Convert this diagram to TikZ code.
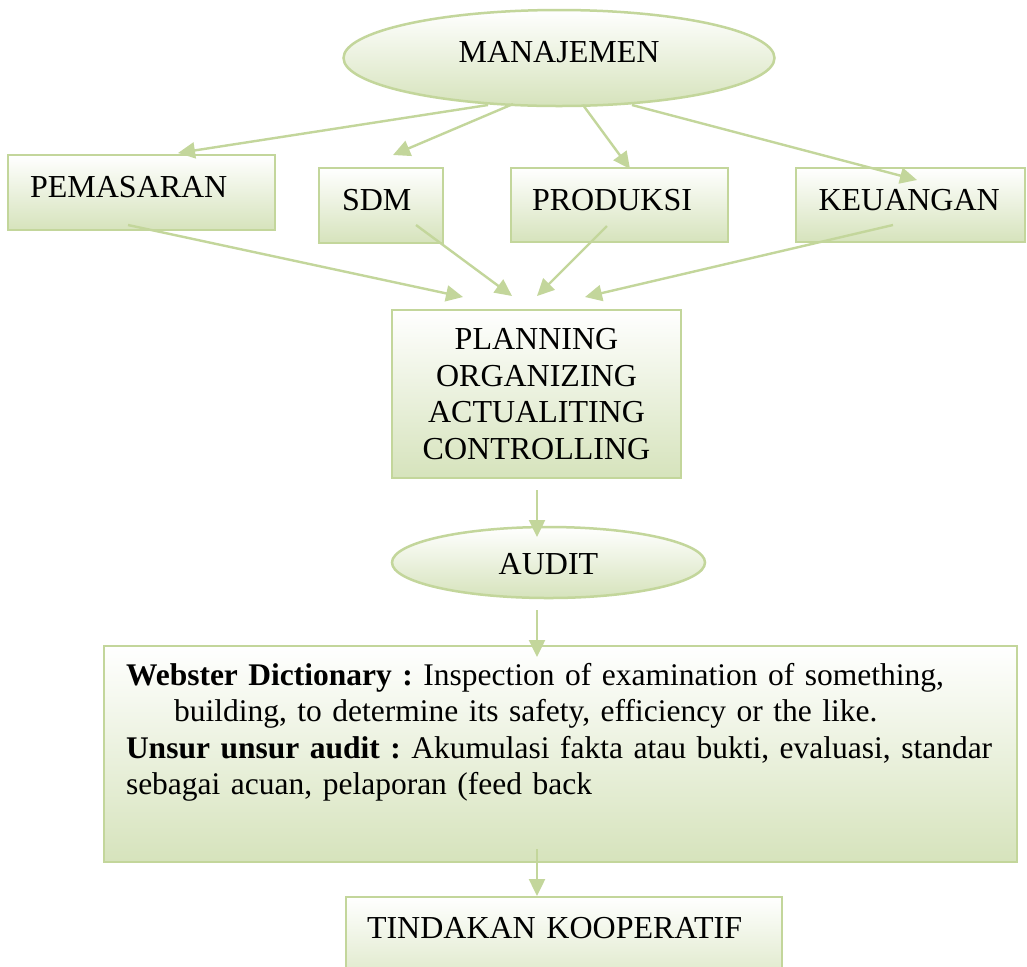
\documentclass[tikz,border=0pt]{standalone}
\usepackage{fontspec}
\setmainfont{Liberation Serif}
\usetikzlibrary{shapes.geometric,arrows.meta,calc}
\definecolor{gline}{RGB}{195,214,155}
\definecolor{gfill}{RGB}{214,227,188}
\frenchspacing
\hyphenpenalty=10000
\hbadness=10000
\hfuzz=20pt
\begin{document}
\begin{tikzpicture}[x=0.5pt,y=-0.5pt,
  every node/.style={font=\fontsize{16pt}{18.3pt}\selectfont, outer sep=0pt},
  rbox/.style={draw=gline, line width=1.25pt, top color=white, bottom color=gfill,
    rectangle, inner ysep=0pt, align=left, anchor=north west},
  ebox/.style={draw=gline, line width=1.25pt, top color=white, bottom color=gfill,
    ellipse, inner sep=2pt},
  arr/.style={draw=gline, line width=1.2pt, -{Triangle[length=8.5pt,width=8pt]}}]
% page area
\fill[white] (0,0) rectangle (1027,966);
\clip (0,0) rectangle (1027,966);

% top level
\node[ebox, minimum width=215.5pt, minimum height=48pt, text height=12pt, text depth=8pt]
  (man) at (559,58) {MANAJEMEN};

% departments
\node[rbox, inner xsep=11pt, text width=111.5pt, text height=21pt, text depth=16.5pt]
  (pem) at (8,155) {PEMASARAN};
\node[rbox, inner xsep=11.5pt, text width=39pt, text height=21pt, text depth=16.5pt]
  (sdm) at (319,168) {SDM};
\node[rbox, inner xsep=10.5pt, text width=87.5pt, text height=21pt, text depth=16pt]
  (pro) at (511,168) {PRODUKSI};
\node[rbox, inner xsep=11.25pt, text width=92pt, text height=21pt, text depth=16pt]
  (keu) at (796,168) {KEUANGAN};

% management functions
\node[draw=gline, line width=1.25pt, top color=white, bottom color=gfill,
  minimum width=144.5pt, minimum height=84pt, align=center]
  (plan) at (536.5,394) {PLANNING\\ORGANIZING\\ACTUALITING\\CONTROLLING};

\node[ebox, minimum width=156.5pt, minimum height=35.5pt, text height=11.5pt, text depth=0pt]
  (audit) at (548.5,562.5) {AUDIT};

% definition box
\node[rbox, inner xsep=11pt, text width=434.5pt, text height=19.5pt, text depth=88.5pt,
  font=\fontsize{15.75pt}{18.3pt}\selectfont]
  (web) at (104,646)
  {\mbox{\textbf{Webster Dictionary :} Inspection of examination of something,}\\
   \mbox{\hspace*{24pt}building, to determine its safety, efficiency or the like.}\\
   \mbox{\textbf{Unsur unsur audit :} Akumulasi fakta atau bukti, evaluasi, standar}\\
   \mbox{sebagai acuan, pelaporan (feed back}};

\node[rbox, inner xsep=10.5pt, text width=197pt, text height=20.5pt, text depth=31pt]
  (tin) at (346,897) {TINDAKAN KOOPERATIF};

% connectors
\draw[arr] ($(man.south)+(-71,-1)$) -- ($(pem.north)+(36.5,-2)$);
\draw[arr] ($(man.south)+(-46,-2)$) -- ($(sdm.north)+(12,-13)$);
\draw[arr] ($(man.south)+(24,-1)$) -- ($(pro.north)+(10.5,1)$);
\draw[arr] ($(man.south)+(73,-1)$) -- ($(keu.north)+(6.5,12)$);

\draw[arr] ($(pem.south)+(-13.5,-5)$) -- ($(plan.north)+(-73.5,-13)$);
\draw[arr] ($(sdm.south)+(35,-18)$) -- ($(plan.north)+(-24.5,-14)$);
\draw[arr] ($(pro.south)+(-12.5,-16)$) -- ($(plan.north)+(0.5,-14)$);
\draw[arr] ($(keu.south)+(-17.5,-17)$) -- ($(plan.north)+(48.5,-13)$);

\draw[arr] ($(plan.south)+(0.5,12)$) -- ($(audit.north)+(-11.5,10)$);
\draw[arr] ($(audit.south)+(-11.5,12)$) -- ($(web.north)+(-23.5,11)$);
\draw[arr] ($(web.south)+(-23.5,-13)$) -- ($(tin.north)+(-27,-1)$);
\end{tikzpicture}
\end{document}
